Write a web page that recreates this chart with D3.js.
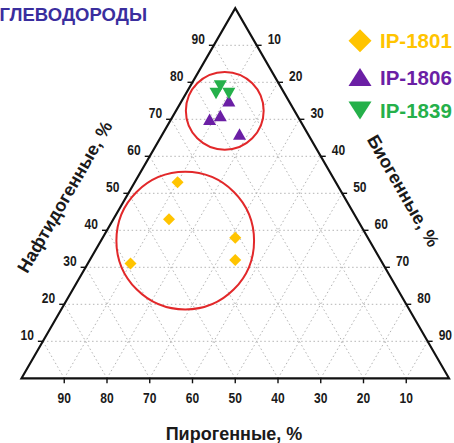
<!DOCTYPE html>
<html><head><meta charset="utf-8">
<script src="https://cdn.jsdelivr.net/npm/d3@7"></script>
<style>
html,body{margin:0;padding:0;background:#fff;overflow:hidden}
svg{display:block;font-family:"Liberation Sans",Arial,sans-serif}
</style></head>
<body>
<svg id="chart" width="454" height="443"></svg>
<script>
// ---- data (percent): Нафтидогенные (top), Биогенные (bottom-right), Пирогенные (bottom-left)
const seriesNames = ["IP-1801", "IP-1806", "IP-1839"];
const seriesColors = ["#FFC400", "#6B1FA5", "#25B04A"];
const ip1801Naft = [53, 43, 38, 32, 31];
const ip1801Bio  = [10, 13, 31, 34, 10];
const ip1801Pyro = [37, 44, 31, 34, 59];
const ip1806Naft = [75, 70, 71, 66];
const ip1806Bio  = [11, 9, 11, 18];
const ip1806Pyro = [14, 21, 18, 16];
const ip1839Naft = [79, 77, 77];
const ip1839Bio  = [7, 7, 10];
const ip1839Pyro = [14, 16, 13];
// grouping circles: centre (naft, bio) and radius as % of side
const circleNaft = [37.2, 72.3];
const circleBio  = [19.7, 11.4];
const circleRad  = [16.1, 9.1];
const tickValues = [10, 20, 30, 40, 50, 60, 70, 80, 90];
const titleText = "УГЛЕВОДОРОДЫ";
const axisNaft = "Нафтидогенные, %";
const axisBio = "Биогенные, %";
const axisPyro = "Пирогенные, %";

const svg = d3.select("#chart");
const x0 = 21.5, x1 = 449, yb = 378.3, yt = 8.3;
const xS = d3.scaleLinear().domain([0, 100]).range([x0, x1]);
const yS = d3.scaleLinear().domain([0, 100]).range([yb, yt]);
const P = (naft, bio) => [xS(bio + naft / 2), yS(naft)];

// grid
const grid = svg.append("g").attr("stroke", "#b4b4b4").attr("stroke-width", 1)
  .attr("stroke-dasharray", "1.5,2.6").attr("fill", "none");
tickValues.forEach(t => {
  let a = P(t, 0), b = P(t, 100 - t);
  grid.append("line").attr("x1", a[0]).attr("y1", a[1]).attr("x2", b[0]).attr("y2", b[1]);
  a = P(0, t); b = P(100 - t, t);
  grid.append("line").attr("x1", a[0]).attr("y1", a[1]).attr("x2", b[0]).attr("y2", b[1]);
  a = P(0, 100 - t); b = P(100 - t, 0);
  grid.append("line").attr("x1", a[0]).attr("y1", a[1]).attr("x2", b[0]).attr("y2", b[1]);
});

// triangle frame
const corners = [P(0, 0), P(0, 100), P(100, 0)];
svg.append("polygon").attr("points", corners.map(c => c.join(",")).join(" "))
  .attr("fill", "none").attr("stroke", "#111").attr("stroke-width", 2.2).attr("stroke-linejoin", "miter");

// ticks & labels
const tg = svg.append("g").attr("stroke", "#111").attr("stroke-width", 1.4);
const lg = svg.append("g").attr("font-size", 14.5).attr("font-weight", "bold").attr("fill", "#1a1a1a");
const lbl = (x, y, anchor, t) => lg.append("text").attr("x", x).attr("y", y).attr("text-anchor", anchor)
  .attr("textLength", 13.4).attr("lengthAdjust", "spacingAndGlyphs").text(t);
tickValues.forEach(t => {
  let p = P(t, 0);
  tg.append("line").attr("x1", p[0]).attr("y1", p[1]).attr("x2", p[0] - 5).attr("y2", p[1]);
  lbl(p[0] - 9, p[1] - 1.5, "end", t);
  p = P(100 - t, t);
  tg.append("line").attr("x1", p[0]).attr("y1", p[1]).attr("x2", p[0] + 5).attr("y2", p[1]);
  lbl(p[0] + 11, p[1] - 1.5, "start", t);
  p = P(0, 100 - t);
  tg.append("line").attr("x1", p[0]).attr("y1", p[1]).attr("x2", p[0]).attr("y2", p[1] + 5);
  lbl(p[0], p[1] + 25, "middle", t);
});

// axis titles
svg.append("text").attr("x", 234).attr("y", 440).attr("text-anchor", "middle")
  .attr("font-size", 18).attr("font-weight", "bold").attr("fill", "#1a1a1a").text(axisPyro);
svg.append("text").attr("transform", "translate(65,197) rotate(-60)").attr("text-anchor", "middle")
  .attr("dominant-baseline", "central")
  .attr("font-size", 18).attr("font-weight", "bold").attr("fill", "#1a1a1a").text(axisNaft);
svg.append("text").attr("transform", "translate(403,191) rotate(60)").attr("text-anchor", "middle")
  .attr("dominant-baseline", "central")
  .attr("font-size", 18).attr("font-weight", "bold").attr("fill", "#1a1a1a").text(axisBio);

// title (cropped at left, as in the reference)
svg.append("text").attr("x", 147).attr("y", 21).attr("text-anchor", "end")
  .attr("font-size", 18.5).attr("font-weight", "bold").attr("fill", "#3A2E9E").text(titleText);

// circles
const side = x1 - x0;
circleNaft.forEach((n, i) => {
  const c = P(n, circleBio[i]);
  svg.append("circle").attr("cx", c[0]).attr("cy", c[1]).attr("r", side * circleRad[i] / 100)
    .attr("fill", "none").attr("stroke", "#E2282A").attr("stroke-width", 2);
});

// marker shapes
const diamond = s => `M0,${-s}L${s},0L0,${s}L${-s},0Z`;
const triUp = (w, h) => `M0,${-h/2}L${w/2},${h/2}L${-w/2},${h/2}Z`;
const triDown = (w, h) => `M0,${h/2}L${w/2},${-h/2}L${-w/2},${-h/2}Z`;
const shapes = [diamond(6), triUp(13, 11.5), triDown(13, 11.5)];
const legendShapes = [diamond(11.5), triUp(23, 18), triDown(23, 18)];

const series = [
  [ip1801Naft, ip1801Bio, ip1801Pyro],
  [ip1806Naft, ip1806Bio, ip1806Pyro],
  [ip1839Naft, ip1839Bio, ip1839Pyro]
];
series.forEach((s, si) => {
  const pts = s[0].map((n, i) => P(n, s[1][i]));
  svg.append("g").selectAll("path").data(pts).join("path")
    .attr("d", shapes[si]).attr("transform", d => `translate(${d[0]},${d[1]})`)
    .attr("fill", seriesColors[si]);
});

// legend
const legY = [40.7, 77, 110.5];
seriesNames.forEach((name, i) => {
  svg.append("path").attr("d", legendShapes[i]).attr("transform", `translate(360,${legY[i]})`)
    .attr("fill", seriesColors[i]);
  svg.append("text").attr("x", 380).attr("y", legY[i] + 7.6).attr("font-size", 20.5)
    .attr("font-weight", "bold").attr("fill", seriesColors[i]).text(name);
});
</script>
</body></html>
